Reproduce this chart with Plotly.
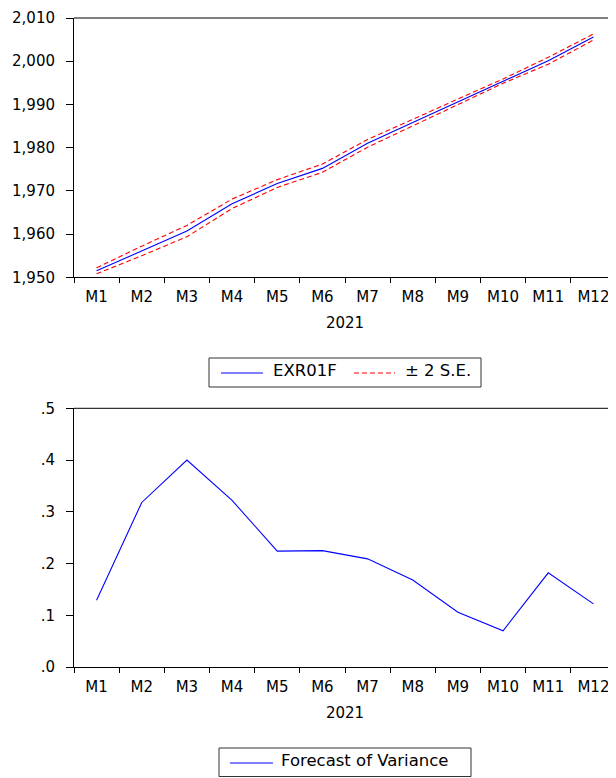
import plotly.graph_objects as go

months = ["M1", "M2", "M3", "M4", "M5", "M6", "M7", "M8", "M9", "M10", "M11", "M12"]
exr_forecast = [1951.5, 1956.1, 1960.7, 1967.0, 1971.7, 1975.2, 1981.0, 1985.8, 1990.6, 1995.4, 2000.1, 2005.6]
upper_2se = [1952.2, 1957.2, 1962.0, 1968.1, 1972.6, 1976.2, 1981.9, 1986.6, 1991.3, 1995.9, 2000.9, 2006.3]
lower_2se = [1950.8, 1955.0, 1959.4, 1965.9, 1970.8, 1974.3, 1980.1, 1985.0, 1990.0, 1994.9, 1999.3, 2004.9]
variance = [0.129, 0.318, 0.400, 0.322, 0.224, 0.225, 0.209, 0.168, 0.106, 0.070, 0.182, 0.122]

top_ticks = [1950, 1960, 1970, 1980, 1990, 2000, 2010]
bot_ticks = [0.0, 0.1, 0.2, 0.3, 0.4, 0.5]
bot_ticktext = [".0", ".1", ".2", ".3", ".4", ".5"]
year_label = "2021"

# the page body adds an 8px margin, so the figure is 8px smaller on each axis
OFF = 8
W, H = 616 - OFF, 778 - OFF
ML, MR, MT, MB = 74 - OFF, 0, 18 - OFF, 111
PW = W - ML - MR
PH = H - MT - MB


def px2x(p):
    # p: page pixel
    return (p - OFF - ML) / PW


def px2y(p):
    return (H - MB - (p - OFF)) / PH


FONT = "DejaVu Sans"
BLUE = "#0000FF"
RED = "#FF0000"

fig = go.Figure()
fig.add_trace(go.Scatter(x=months, y=exr_forecast, mode="lines",
                         line=dict(color=BLUE, width=1.1), xaxis="x", yaxis="y"))
fig.add_trace(go.Scatter(x=months, y=upper_2se, mode="lines",
                         line=dict(color=RED, width=1.1, dash="5px,3px"), xaxis="x", yaxis="y"))
fig.add_trace(go.Scatter(x=months, y=lower_2se, mode="lines",
                         line=dict(color=RED, width=1.1, dash="5px,3px"), xaxis="x", yaxis="y"))
fig.add_trace(go.Scatter(x=months, y=variance, mode="lines",
                         line=dict(color=BLUE, width=1.1), xaxis="x2", yaxis="y2"))

xcommon = dict(type="category", categoryorder="array", categoryarray=months,
               tickson="boundaries", ticks="outside", ticklen=5, tickcolor="#000",
               showline=True, linecolor="#000", linewidth=1, showgrid=False,
               zeroline=False, tickfont=dict(family=FONT, size=15, color="#000"),
               range=[-0.5, 11.5], fixedrange=True, ticklabelstandoff=6)
ycommon = dict(ticks="outside", ticklen=7, tickcolor="#000", showline=True,
               linecolor="#000", linewidth=1, showgrid=False, zeroline=False,
               tickfont=dict(family=FONT, size=15, color="#000"), fixedrange=True,
               ticklabelstandoff=8)

top_dom = [px2y(277.3), 1.0]
bot_dom = [0.0, px2y(408.3)]

fig.update_layout(
    width=W, height=H,
    margin=dict(l=ML, r=MR, t=MT, b=MB, pad=0),
    paper_bgcolor="white", plot_bgcolor="white",
    showlegend=False,
    font=dict(family=FONT, size=15, color="#000"),
    xaxis=dict(xcommon, anchor="y", domain=[0, 1],
               title=dict(text=year_label, font=dict(family=FONT, size=15), standoff=12)),
    yaxis=dict(ycommon, anchor="x", domain=top_dom, range=[1950, 2010],
               tickvals=top_ticks, tickformat=",d"),
    xaxis2=dict(xcommon, anchor="y2", domain=[0, 1],
                title=dict(text=year_label, font=dict(family=FONT, size=15), standoff=12)),
    yaxis2=dict(ycommon, anchor="x2", domain=bot_dom, range=[0, 0.5],
                tickvals=bot_ticks, ticktext=bot_ticktext),
)

# top frame lines
for xr, yr in (("x domain", "y domain"), ("x2 domain", "y2 domain")):
    fig.add_shape(type="line", xref=xr, yref=yr, x0=0, x1=1, y0=1, y1=1,
                  line=dict(color="#000", width=1))


# legends (drawn manually as boxes with samples), page pixel coordinates
def legend_box(x0, x1, y0, y1):
    fig.add_shape(type="rect", xref="paper", yref="paper",
                  x0=px2x(x0), x1=px2x(x1), y0=px2y(y1), y1=px2y(y0),
                  line=dict(color="#333", width=1), fillcolor="white")


def legend_line(x0, x1, y, color, dash="solid"):
    fig.add_shape(type="line", xref="paper", yref="paper",
                  x0=px2x(x0), x1=px2x(x1), y0=px2y(y), y1=px2y(y),
                  line=dict(color=color, width=1, dash=dash))


def legend_text(x, y, text):
    fig.add_annotation(xref="paper", yref="paper", x=px2x(x), y=px2y(y),
                       text=text, showarrow=False, xanchor="left", yanchor="middle",
                       font=dict(family=FONT, size=16.5, color="#000"), borderpad=0)


legend_box(209, 481, 358, 387)
legend_line(221, 263, 373, BLUE)
legend_text(272, 370, "EXR01F")
legend_line(354, 395, 373, RED, "5px,3px")
legend_text(404, 370, "± 2 S.E.")

legend_box(219, 471, 748, 776.5)
legend_line(230, 273, 763, BLUE)
legend_text(280, 760, "Forecast of Variance")

fig.write_html("out.html")
